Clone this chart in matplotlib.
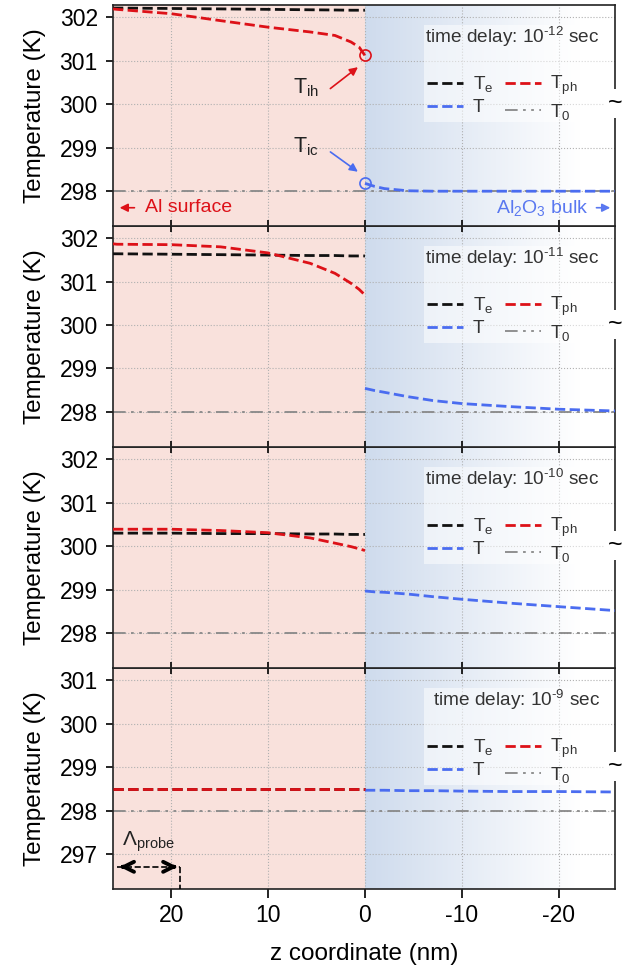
import numpy as np
import matplotlib
matplotlib.use("Agg")
import matplotlib.pyplot as plt
from matplotlib.patches import Rectangle

plt.rcParams['font.family'] = ['Liberation Sans', 'DejaVu Sans']
plt.rcParams['mathtext.fontset'] = 'custom'
plt.rcParams['mathtext.rm'] = 'Liberation Sans'
plt.rcParams['mathtext.it'] = 'Liberation Sans:italic'
plt.rcParams['axes.unicode_minus'] = False

# z positions (nm): metal side (Al) and substrate side (Al2O3)
z_metal = [26, 25.6, 20, 14.9, 10, 5.65, 3.1, 1.44, 0.6, 0]
z_sub = [0, -1, -2, -4.4, -7, -10, -15, -20, -25.8]

delays = ['-12', '-11', '-10', '-9']

# electron temperature T_e
te = [
    [302.21, 302.21, 302.20, 302.19, 302.18, 302.17, 302.165, 302.16, 302.16, 302.16],
    [301.64, 301.64, 301.63, 301.62, 301.61, 301.60, 301.60, 301.59, 301.59, 301.59],
    [300.30, 300.30, 300.30, 300.29, 300.29, 300.28, 300.28, 300.27, 300.27, 300.27],
    [298.51, 298.51, 298.51, 298.51, 298.51, 298.51, 298.51, 298.51, 298.51, 298.51],
]
# phonon temperature T_ph
tph = [
    [302.19, 302.18, 302.08, 301.92, 301.77, 301.66, 301.58, 301.43, 301.31, 301.12],
    [301.87, 301.86, 301.85, 301.80, 301.66, 301.42, 301.19, 300.96, 300.82, 300.69],
    [300.39, 300.39, 300.39, 300.36, 300.31, 300.19, 300.07, 299.99, 299.94, 299.90],
    [298.51, 298.51, 298.51, 298.51, 298.51, 298.51, 298.51, 298.51, 298.51, 298.51],
]
# substrate temperature T
tsub = [
    [298.18, 298.11, 298.06, 298.01, 298.00, 298.00, 298.00, 298.00, 298.00],
    [298.54, 298.49, 298.45, 298.35, 298.26, 298.19, 298.12, 298.06, 298.02],
    [298.97, 298.95, 298.94, 298.90, 298.84, 298.78, 298.69, 298.61, 298.52],
    [298.47, 298.47, 298.47, 298.46, 298.46, 298.45, 298.44, 298.44, 298.43],
]
T0 = 298.0
ylims = [(297.2, 302.28), (297.19, 302.28), (297.2, 302.28), (296.2, 301.28)]
yticks = [[298, 299, 300, 301, 302]] * 3 + [[297, 298, 299, 300, 301]]
xticks = [20, 10, 0, -10, -20]

red = '#dd1118'
blue = '#4a6cf0'
pink = '#f9e1dc'

fig = plt.figure(figsize=(6.39, 9.73), dpi=100)
W, H = 639.0, 973.0
left, right = 113 / W, 615 / W
tops = [5, 226, 447, 668]
ph = 221

# gradient for the substrate side
grad = np.linspace(0, 1, 256)
grad = np.clip(grad / 0.85, 0, 1)
c0 = np.array([0.81, 0.86, 0.93])
img = c0[None, :] * (1 - grad[:, None]) + np.ones(3)[None, :] * grad[:, None]
img = img[None, :, :]

axes = []
for i in range(4):
    ax = fig.add_axes([left, 1 - (tops[i] + ph) / H, right - left, ph / H])
    ax.set_zorder(10 - i)
    axes.append(ax)
    y0, y1 = ylims[i]

    ax.axvspan(26, 0, color=pink, zorder=0, lw=0)
    ax.imshow(img, extent=[0, -26, y0, y1], aspect='auto', zorder=0, interpolation='bilinear')

    ax.add_patch(Rectangle((0.62, 0.47), 0.37, 0.44, transform=ax.transAxes,
                           fc='white', ec='none', alpha=0.5, zorder=1.6))

    ax.axhline(T0, color='#888888', lw=1.3, dashes=(7, 3, 1.5, 3, 1.5, 3), zorder=2, label='T$_\\mathregular{0}$')
    l_e, = ax.plot(z_metal, te[i], color='#111111', lw=2, ls='--', zorder=3, label='T$_\\mathregular{e}$')
    l_ph, = ax.plot(z_metal, tph[i], color=red, lw=2, ls='--', zorder=3.1, label='T$_\\mathregular{ph}$')
    l_t, = ax.plot(z_sub, tsub[i], color=blue, lw=2, ls='--', zorder=3, label='T')
    l_0 = ax.get_lines()[0]

    ax.set_xlim(26, -25.8)
    ax.set_ylim(y0, y1)
    ax.set_xticks(xticks)
    ax.set_yticks(yticks[i])
    ax.grid(True, ls=':', color='#b0b0b0', lw=0.8)
    ax.tick_params(axis='y', direction='out', length=5, width=1.2, pad=6, labelsize=16.5)
    if i < 3:
        ax.tick_params(axis='x', direction='inout', length=9, width=1.2, labelbottom=False)
    else:
        ax.tick_params(axis='x', direction='out', length=6.5, width=1.2, pad=4, labelsize=16.5)
        ax.set_xlabel('z coordinate (nm)', fontsize=17.5, labelpad=12)
    ax.set_ylabel('Temperature (K)', fontsize=17.5, labelpad=10)
    for s in ax.spines.values():
        s.set_color('#222222')
        s.set_linewidth(1.2)

    ax.text(0.97, 0.857, 'time delay: 10$^\\text{%s}$ sec' % delays[i], transform=ax.transAxes,
            ha='right', va='center', fontsize=13.7, color='#333333', zorder=4)
    ax.legend([l_e, l_t, l_ph, l_0], [l_e.get_label(), l_t.get_label(), l_ph.get_label(), l_0.get_label()],
              ncol=2, loc='center', bbox_to_anchor=(0.776, 0.579), frameon=False, fontsize=13.7,
              handlelength=1.9, handletextpad=0.5, columnspacing=0.6, labelspacing=0.25,
              labelcolor='#333333')
    ax.text(1.0, 0.555, '~', transform=ax.transAxes, ha='center', va='center', fontsize=18,
            bbox=dict(fc='white', ec='none', pad=2), clip_on=False, zorder=6)

# annotations of the top panel
ax = axes[0]
ax.plot(z_metal[-1], tph[0][-1], 'o', mfc='none', mec=red, ms=8, mew=1.2, zorder=4)
ax.plot(z_sub[0], tsub[0][0], 'o', mfc='none', mec=blue, ms=8, mew=1.2, zorder=4)
ax.text(7.4, 300.39, 'T$_\\mathregular{ih}$', ha='left', va='center', fontsize=15.5, color='#222222')
ax.annotate('', xy=(0.5, 300.89), xytext=(3.8, 300.32),
            arrowprops=dict(arrowstyle='-|>', color=red, lw=1.2, mutation_scale=12))
ax.text(7.4, 299.02, 'T$_\\mathregular{ic}$', ha='left', va='center', fontsize=15.5, color='#222222')
ax.annotate('', xy=(0.5, 298.41), xytext=(3.8, 298.94),
            arrowprops=dict(arrowstyle='-|>', color=blue, lw=1.2, mutation_scale=12))
ax.annotate('', xy=(25.6, 297.62), xytext=(23.5, 297.62),
            arrowprops=dict(arrowstyle='-|>', color=red, lw=1.2, mutation_scale=12))
ax.text(22.7, 297.62, 'Al surface', ha='left', va='center', fontsize=14, color=red)
ax.text(-23.0, 297.62, 'Al$_\\mathregular{2}$O$_\\mathregular{3}$ bulk', ha='right', va='center',
        fontsize=14, color='#5a78f0')
ax.annotate('', xy=(-25.6, 297.62), xytext=(-23.6, 297.62),
            arrowprops=dict(arrowstyle='-|>', color='#5a78f0', lw=1.2, mutation_scale=12))

# probe depth marker in the bottom panel
ax = axes[3]
lam_x, lam_y = 19.06, 296.71
ax.plot([25.6, lam_x], [lam_y, lam_y], color='black', lw=1.2, ls='--', zorder=4)
ax.plot([lam_x, lam_x], [lam_y, ylims[3][0]], color='black', lw=1.2, ls='--', zorder=4)
ax.annotate('', xy=(25.6, lam_y), xytext=(24.6, lam_y),
            arrowprops=dict(arrowstyle='->', color='black', lw=2.8, mutation_scale=18))
ax.annotate('', xy=(lam_x, lam_y), xytext=(20.1, lam_y),
            arrowprops=dict(arrowstyle='->', color='black', lw=2.8, mutation_scale=18))
ax.text(22.3, 297.28, 'Λ$_\\mathregular{probe}$', ha='center', va='center', fontsize=15, color='#222222')

fig.savefig('out.png', dpi=100)
